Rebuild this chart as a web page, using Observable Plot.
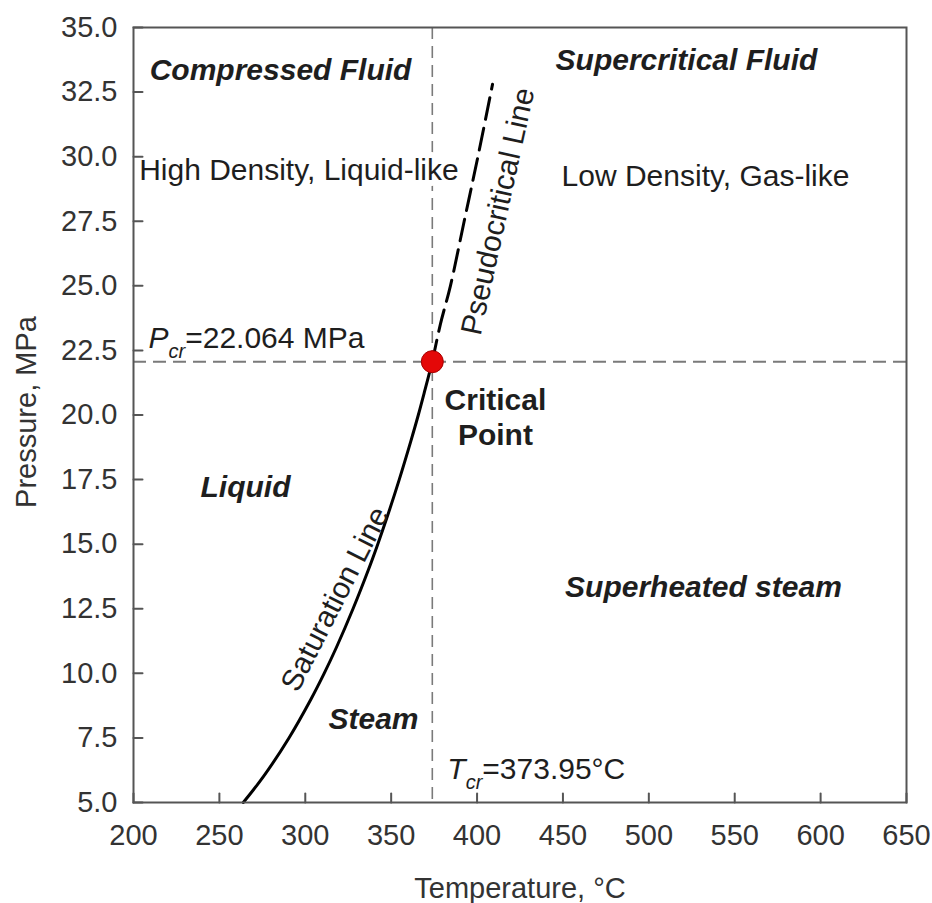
<!DOCTYPE html>
<html>
<head>
<meta charset="utf-8">
<script src="https://cdn.jsdelivr.net/npm/d3@7"></script>
<script src="https://cdn.jsdelivr.net/npm/@observablehq/plot@0.6"></script>
<style>
  html, body { margin: 0; padding: 0; background: #fff; overflow: hidden; }
</style>
</head>
<body>
<div id="chart"></div>
<script>
// Phase diagram of water around its critical point (pressure vs temperature)

const xTicks = [200, 250, 300, 350, 400, 450, 500, 550, 600, 650];
const yTicks = [5, 7.5, 10, 12.5, 15, 17.5, 20, 22.5, 25, 27.5, 30, 32.5, 35];

// Critical point
const Tcr = 373.95;   // °C
const Pcr = 22.064;   // MPa

// Saturation (boiling) curve, temperature °C vs pressure MPa
const satT = [263.9, 275.6, 290.5, 303.3, 311.0, 318.1, 327.8, 336.7, 342.2, 347.4, 354.7, 361.5, 365.8, 369.8, 373.95];
const satP = [5, 6, 7.5, 9, 10, 11, 12.5, 14, 15, 16, 17.5, 19, 20, 21, 22.064];

// Pseudocritical line continuing above the critical point
const pseudoT = [373.95, 378.6, 384.5, 392.5, 400.5, 409.0];
const pseudoP = [22.064, 23.5, 25, 27.5, 30, 32.8];

// Region names (bold italic) and where they sit on the diagram
const regionNames = ["Compressed Fluid", "Supercritical Fluid", "Liquid", "Steam", "Superheated steam"];
const regionT = [285.6, 521.9, 265.2, 339.7, 531.8];
const regionP = [32.95, 33.34, 16.81, 7.86, 12.94];

// Density descriptions of the supercritical halves
const densityNames = ["High Density, Liquid-like", "Low Density, Gas-like"];
const densityT = [296.3, 533.0];
const densityP = [29.08, 28.88];

// Labels that run along the two curves
const curveNames = ["Saturation Line", "Pseudocritical Line"];
const curveT = [322.3, 417.7];
const curveP = [12.70, 27.8];
const curveAngle = [-63, -77.6];

// Critical point caption
const criticalName = "Critical\nPoint";
const criticalT = 410.7;
const criticalP = 18.82;

// Critical value labels: symbol, subscript, remainder
const pcrParts = ["P", "cr", "=" + Pcr + " MPa"];
const tcrParts = ["T", "cr", "=" + Tcr + "°C"];

const xLabel = "Temperature, °C";
const yLabel = "Pressure, MPa";

const FONT = "'Liberation Sans', Arial, Helvetica, sans-serif";
const ink = "#1e1e1e";
const axisGrey = "#555";

const sat = satT.map((T, i) => ({T, P: satP[i]}));
const pseudo = pseudoT.map((T, i) => ({T, P: pseudoP[i]}));
const regions = regionNames.map((s, i) => ({s, T: regionT[i], P: regionP[i]}));
const density = densityNames.map((s, i) => ({s, T: densityT[i], P: densityP[i]}));
const curves = curveNames.map((s, i) => ({s, T: curveT[i], P: curveP[i], a: curveAngle[i]}));

// plain stroke used for the inward tick marks
const tickShape = {draw(context, l) { context.moveTo(0, 0); context.lineTo(0, -l); }};

const chart = Plot.plot({
  width: 932,
  height: 903,
  marginLeft: 133,
  marginRight: 26,
  marginTop: 27,
  marginBottom: 101,
  style: {fontFamily: FONT, fontSize: "29px", background: "#fff"},
  x: {domain: [xTicks[0], xTicks[xTicks.length - 1]]},
  y: {domain: [yTicks[0], yTicks[yTicks.length - 1]]},
  marks: [
    // critical isobar and isotherm
    Plot.ruleY([Pcr], {stroke: "#7a7a7a", strokeWidth: 2, strokeDasharray: "13,7"}),
    Plot.ruleX([Tcr], {stroke: "#7a7a7a", strokeWidth: 1.6, strokeDasharray: "12,7"}),

    // saturation and pseudocritical curves
    Plot.line(sat, {x: "T", y: "P", curve: "catmull-rom", stroke: "#000", strokeWidth: 3}),
    Plot.line(pseudo, {x: "T", y: "P", curve: "catmull-rom", stroke: "#000", strokeWidth: 3, strokeDasharray: "22,9"}),

    // region names
    Plot.text(regions, {x: "T", y: "P", text: "s", fontSize: 30, fontWeight: "bold", fontStyle: "italic",
      lineAnchor: "bottom", fill: ink}),
    Plot.text(density, {x: "T", y: "P", text: "s", fontSize: 30, lineAnchor: "bottom", fill: ink,
      stroke: "#fff", strokeWidth: 12}),
    Plot.text(curves, {x: "T", y: "P", text: "s", rotate: "a", fontSize: 30, lineAnchor: "bottom", fill: ink}),
    Plot.text([{T: criticalT, P: criticalP}], {x: "T", y: "P", text: () => criticalName, fontSize: 30,
      fontWeight: "bold", lineAnchor: "bottom", lineHeight: 1.17, fill: ink}),

    // critical value labels
    Plot.text([{T: xTicks[0], P: Pcr}], {x: "T", y: "P", text: () => pcrParts.join(""), fontSize: 30,
      textAnchor: "start", lineAnchor: "bottom", dx: 15, dy: -14, fill: ink}),
    Plot.text([{T: Tcr, P: yTicks[0]}], {x: "T", y: "P", text: () => tcrParts.join(""), fontSize: 30,
      textAnchor: "start", lineAnchor: "bottom", dx: 15, dy: -24, fill: ink}),

    // critical point marker
    Plot.dot([{T: Tcr, P: Pcr}], {x: "T", y: "P", r: 11, fill: "#e40808", stroke: "#a80000", strokeWidth: 1}),

    // closed box
    Plot.frame({stroke: axisGrey, strokeWidth: 2}),

    // inward ticks on the bottom and left edges
    Plot.vector(xTicks, {x: d => d, y: () => yTicks[0], length: 9, rotate: 0, anchor: "start",
      shape: tickShape, stroke: axisGrey, strokeWidth: 2}),
    Plot.vector(yTicks, {x: () => xTicks[0], y: d => d, length: 9, rotate: 90, anchor: "start",
      shape: tickShape, stroke: axisGrey, strokeWidth: 2}),

    // tick labels
    Plot.axisX(xTicks, {anchor: "bottom", tickSize: 0, tickPadding: 22, fill: "#333", fontSize: 29,
      label: null, tickFormat: d => String(d)}),
    Plot.axisY(yTicks, {anchor: "left", tickSize: 0, tickPadding: 16, fill: "#333", fontSize: 29,
      label: null, tickFormat: d3.format(".1f")}),

    // axis titles
    Plot.text([xLabel], {frameAnchor: "bottom", text: d => d, dy: 95, textAnchor: "middle", lineAnchor: "bottom",
      fontSize: 29, fill: "#333"}),
    Plot.text([yLabel], {frameAnchor: "left", text: d => d, rotate: -90, dx: -98, dy: -3, textAnchor: "middle",
      lineAnchor: "bottom", fontSize: 29, fill: "#333"})
  ]
});

// Italic symbol with a lowered subscript, followed by the value
function subscriptLabel(node, parts) {
  const t = d3.select(node);
  t.text(null);
  t.append("tspan").attr("font-style", "italic").text(parts[0]);
  t.append("tspan").attr("font-style", "italic").attr("font-size", 20).attr("dy", 10).text(parts[1]);
  t.append("tspan").attr("dy", -10).text(parts[2]);
}

d3.select(chart).selectAll("text").each(function () {
  const s = this.textContent;
  if (s === pcrParts.join("")) subscriptLabel(this, pcrParts);
  else if (s === tcrParts.join("")) subscriptLabel(this, tcrParts);
});

document.getElementById("chart").appendChild(chart);
</script>
</body>
</html>
